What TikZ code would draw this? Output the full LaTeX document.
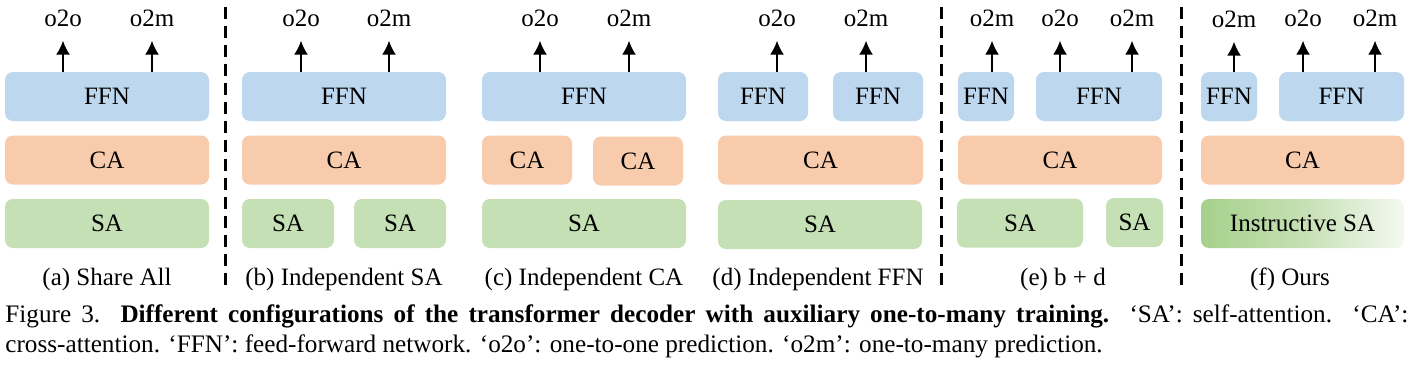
\documentclass[tikz,border=0pt]{standalone}
\usepackage{fontspec}
\setmainfont{Liberation Serif}
\usetikzlibrary{arrows.meta,positioning}

\definecolor{ffncol}{HTML}{BDD7EE}
\definecolor{cacol}{HTML}{F8CBAD}
\definecolor{sacol}{HTML}{C5E0B4}
\definecolor{isaleft}{HTML}{A6D08B}
\definecolor{isaright}{HTML}{F3F9EF}

\tikzset{
  blk/.style={rounded corners=4pt, minimum height=24.5pt, inner sep=0pt, font=\fontsize{12.5}{15}\selectfont},
  ffn/.style={blk, fill=ffncol},
  ca/.style={blk, fill=cacol},
  sa/.style={blk, fill=sacol},
  predlbl/.style={anchor=base, inner xsep=0pt, inner ysep=7pt, font=\fontsize{12.5}{15}\selectfont},
  subcap/.style={anchor=base, inner sep=0pt, font=\fontsize{12.5}{15}\selectfont},
  arr/.style={-{Latex[length=7pt,width=7pt]}, line width=1pt},
  sepline/.style={line width=1.5pt, dash pattern=on 6pt off 3.5pt}
}

\begin{document}
\begin{tikzpicture}[x=0.5pt,y=-0.5pt]
  \useasboundingbox (0,0) rectangle (1411,364);

  % (a) share all
  \node[ffn, minimum width=102pt] (ffnA) at (107,96.5) {FFN};
  \node[ca, minimum width=102pt] (caA) at (107,160) {CA};
  \node[sa, minimum width=102pt] (saA) at (107,223.5) {SA};
  \node[predlbl] (ooA) at (63,26) {o2o};
  \node[predlbl] (omA) at (152,26) {o2m};
  \draw[arr] (ooA |- ffnA.north) -- (ooA);
  \draw[arr] (omA |- ffnA.north) -- (omA);
  \node[subcap] (capA) at (107,285) {(a) Share All};

  \draw[sepline] (225,7) -- (225,290);

  % (b) independent SA
  \node[ffn, minimum width=102pt] (ffnB) at (344,96.5) {FFN};
  \node[ca, minimum width=102pt] (caB) at (344,160) {CA};
  \node[sa, minimum width=46pt] (saB1) at (288,223.5) {SA};
  \node[sa, minimum width=46pt] (saB2) at (400,223.5) {SA};
  \node[predlbl] (ooB) at (301,26) {o2o};
  \node[predlbl] (omB) at (389,26) {o2m};
  \draw[arr] (ooB |- ffnB.north) -- (ooB);
  \draw[arr] (omB |- ffnB.north) -- (omB);
  \node[subcap] (capB) at (344,285) {(b) Independent SA};

  % (c) independent CA
  \node[ffn, minimum width=102pt] (ffnC) at (584,96.5) {FFN};
  \node[ca, minimum width=45pt] (caC1) at (527,160) {CA};
  \node[ca, minimum width=45pt] (caC2) at (638,161) {CA};
  \node[sa, minimum width=102pt] (saC) at (584,223.5) {SA};
  \node[predlbl] (ooC) at (540,26) {o2o};
  \node[predlbl] (omC) at (629,26) {o2m};
  \draw[arr] (ooC |- ffnC.north) -- (ooC);
  \draw[arr] (omC |- ffnC.north) -- (omC);
  \node[subcap] (capC) at (584,285) {(c) Independent CA};

  % (d) independent FFN
  \node[ffn, minimum width=45pt] (ffnD1) at (763,96.5) {FFN};
  \node[ffn, minimum width=45pt] (ffnD2) at (878,96.5) {FFN};
  \node[ca, minimum width=102.5pt] (caD) at (820.5,160) {CA};
  \node[sa, minimum width=102pt] (saD) at (820,224.5) {SA};
  \node[predlbl] (ooD) at (777,26) {o2o};
  \node[predlbl] (omD) at (866,26) {o2m};
  \draw[arr] (ooD |- ffnD1.north) -- (ooD);
  \draw[arr] (omD |- ffnD2.north) -- (omD);
  \node[subcap] (capD) at (818,285) {(d) Independent FFN};

  \draw[sepline] (941,7) -- (941,290);

  % (e) b + d
  \node[ffn, minimum width=28pt] (ffnE1) at (986,96.5) {FFN};
  \node[ffn, minimum width=63pt] (ffnE2) at (1099,96.5) {FFN};
  \node[ca, minimum width=102pt] (caE) at (1060,160) {CA};
  \node[sa, minimum width=63pt] (saE1) at (1020,223) {SA};
  \node[sa, minimum width=28.5pt] (saE2) at (1134.5,222.5) {SA};
  \node[predlbl] (omE1) at (992,26) {o2m};
  \node[predlbl] (ooE) at (1060,26) {o2o};
  \node[predlbl] (omE2) at (1132,26) {o2m};
  \draw[arr] (omE1 |- ffnE1.north) -- (omE1);
  \draw[arr] (ooE |- ffnE2.north) -- (ooE);
  \draw[arr] (omE2 |- ffnE2.north) -- (omE2);
  \node[subcap] (capE) at (1063,285) {(e) b + d};

  \draw[sepline] (1181,7) -- (1181,290);

  % (f) ours
  \node[ffn, minimum width=28pt] (ffnF1) at (1229,96.5) {FFN};
  \node[ffn, minimum width=62.5pt] (ffnF2) at (1341.5,96.5) {FFN};
  \node[ca, minimum width=101.5pt] (caF) at (1302.5,160) {CA};
  \node[blk, minimum width=101.5pt, left color=isaleft, right color=isaright, middle color=sacol] (saF) at (1302.5,223.5) {Instructive SA};
  \node[predlbl] (omF1) at (1234,27) {o2m};
  \node[predlbl] (ooF) at (1303,26) {o2o};
  \node[predlbl] (omF2) at (1375,26) {o2m};
  \draw[arr] (omF1 |- ffnF1.north) -- (omF1);
  \draw[arr] (ooF |- ffnF2.north) -- (ooF);
  \draw[arr] (omF2 |- ffnF2.north) -- (omF2);
  \node[subcap] (capF) at (1290,285) {(f) Ours};

  % caption
  \node[anchor=base west, text width=701.5pt, align=justify, inner sep=0pt, font=\fontsize{12.6}{15}\selectfont] (cap) at (5,322)
    {Figure 3.\ \ \textbf{Different configurations of the transformer decoder with auxiliary one-to-many training.}\ \ `SA': self-attention.\ \ `CA':\linebreak
     cross-attention. `FFN': feed-forward network. `o2o': one-to-one prediction. `o2m': one-to-many prediction.};
\end{tikzpicture}
\end{document}
